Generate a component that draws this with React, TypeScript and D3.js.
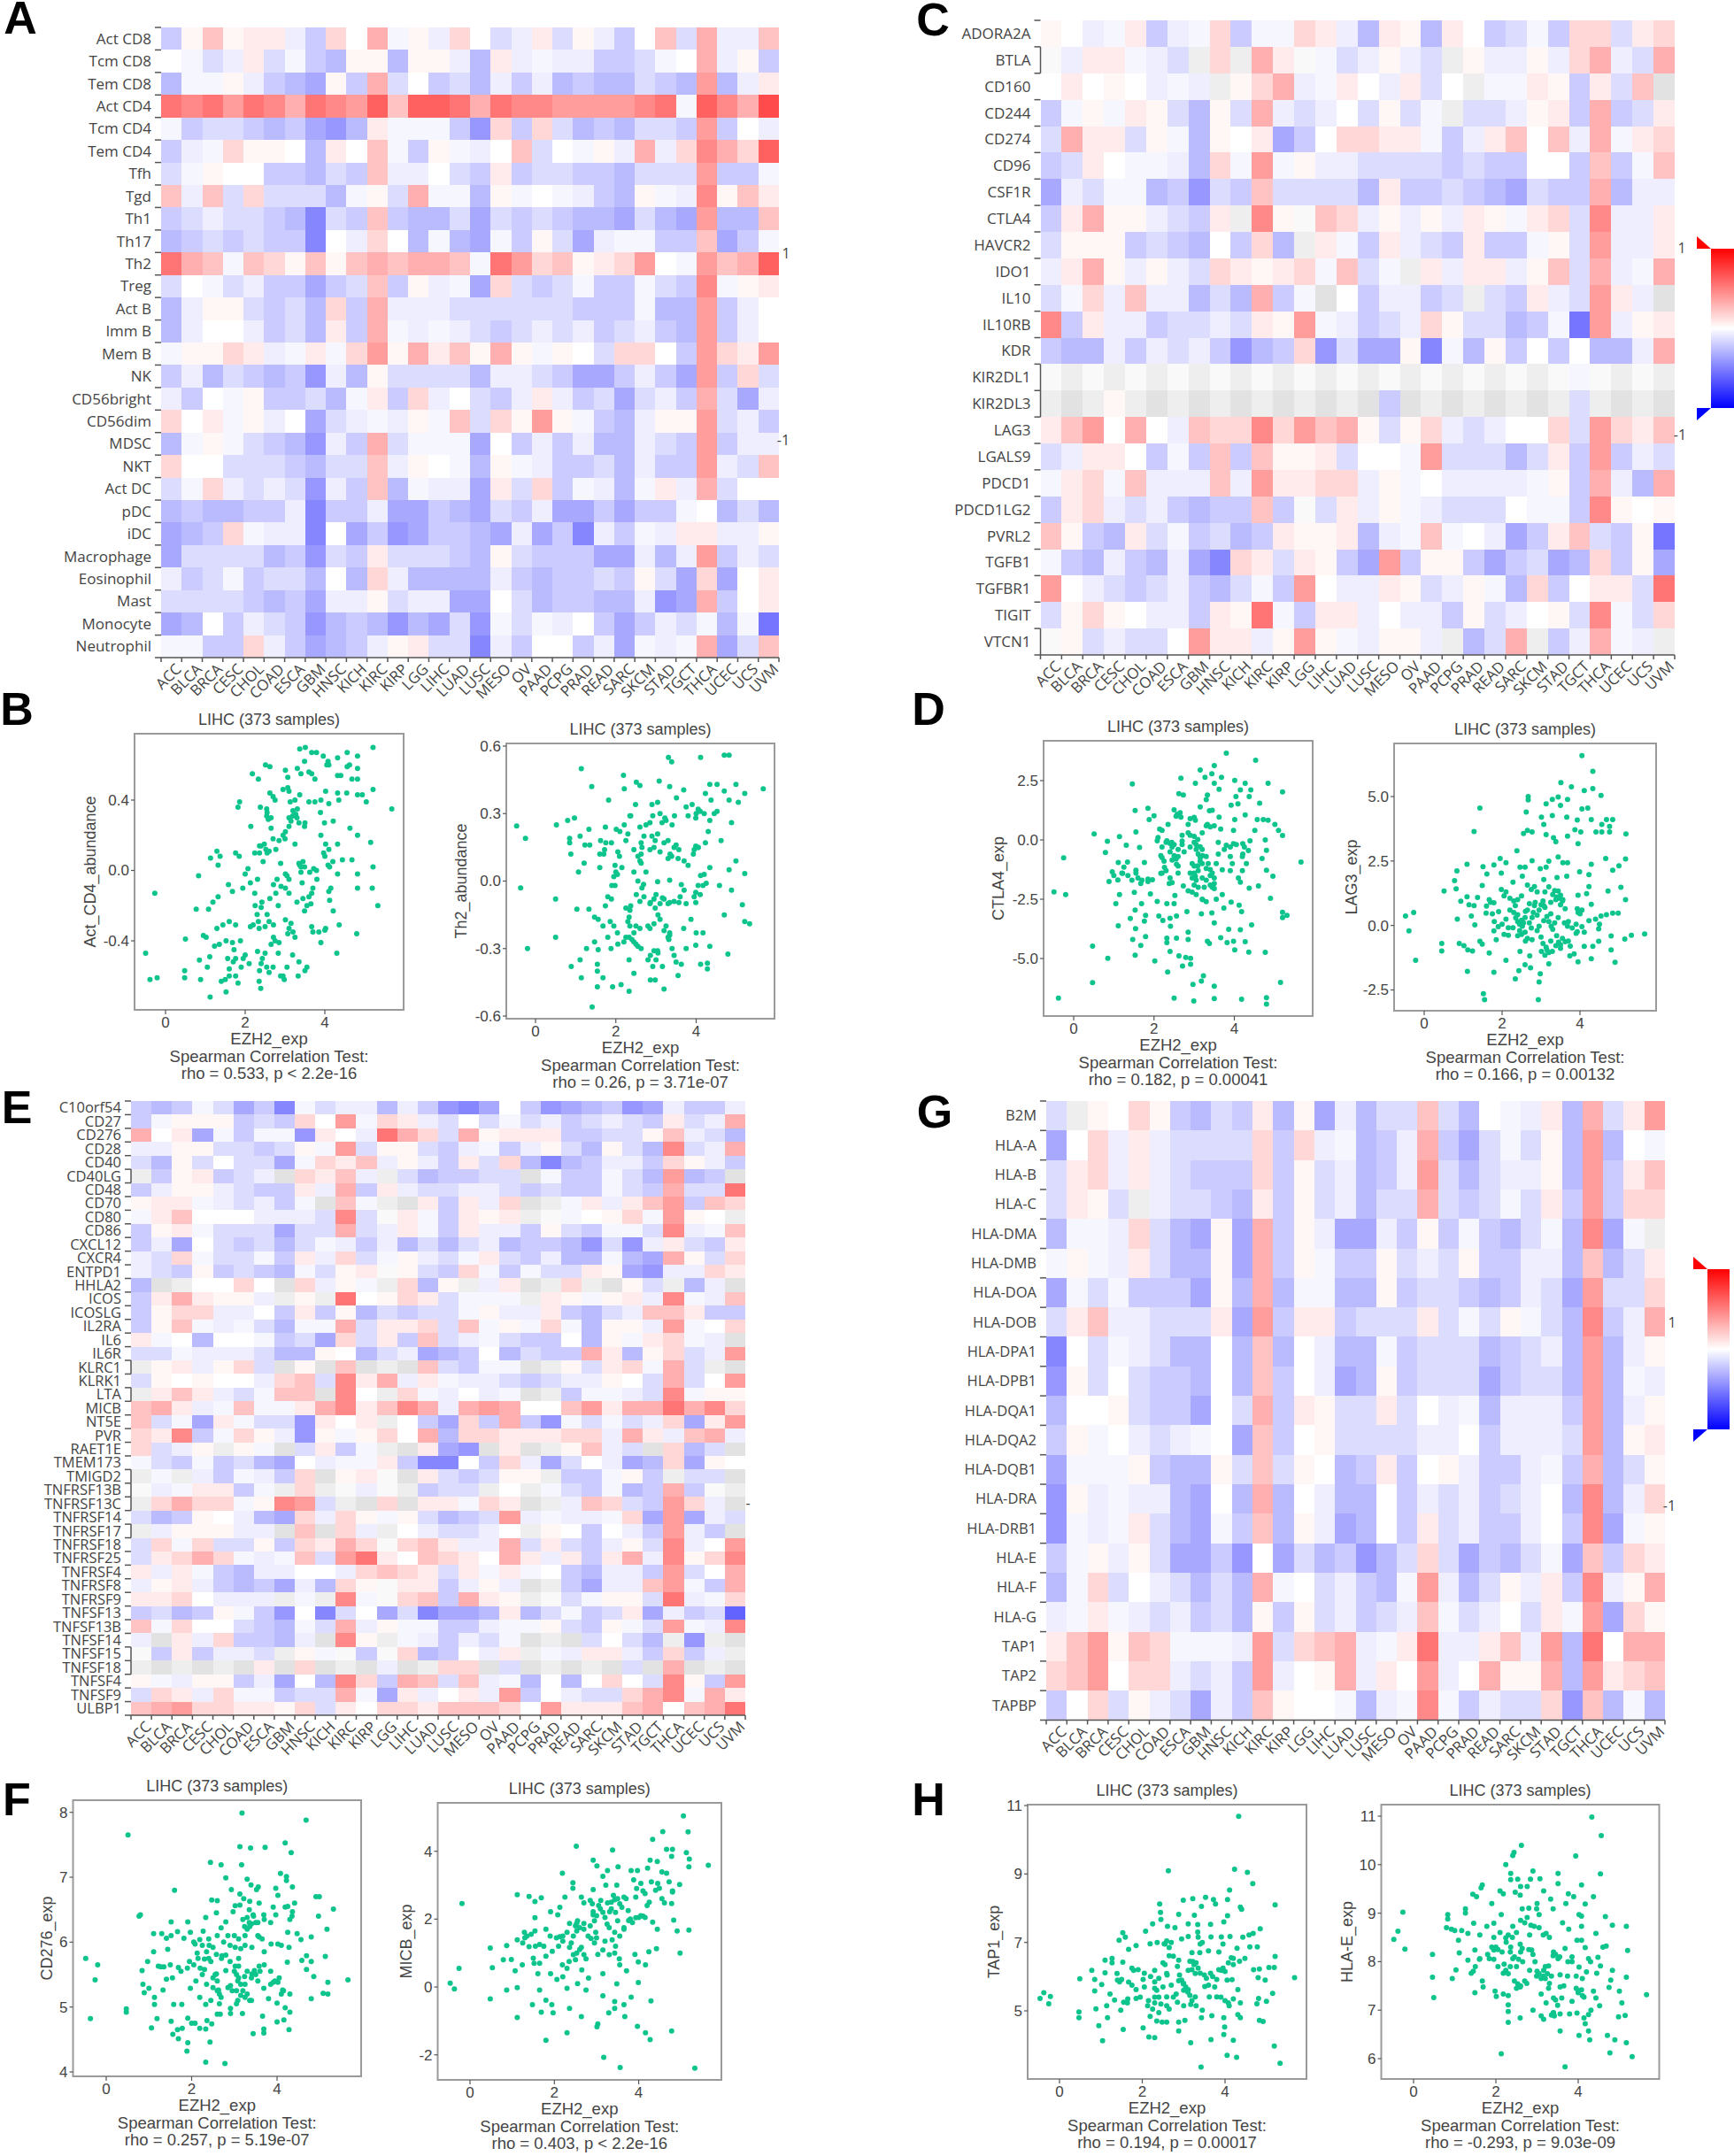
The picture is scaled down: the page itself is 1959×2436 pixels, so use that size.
import * as d3 from 'd3';

const CANCERS = ['ACC','BLCA','BRCA','CESC','CHOL','COAD','ESCA','GBM','HNSC','KICH','KIRC','KIRP','LGG','LIHC','LUAD','LUSC','MESO','OV','PAAD','PCPG','PRAD','READ','SARC','SKCM','STAD','TGCT','THCA','UCEC','UCS','UVM'];

// Cell codes: 1-9 red steps, a-i blue steps, + and - the faintest tints, . white, x y z greys (no data)
const A_LABELS = ['Act CD8','Tcm CD8','Tem CD8','Act CD4','Tcm CD4','Tem CD4','Tfh','Tgd','Th1','Th17','Th2','Treg','Act B','Imm B','Mem B','NK','CD56bright','CD56dim','MDSC','NKT','Act DC','pDC','iDC','Macrophage','Eosinophil','Mast','Monocyte','Neutrophil'];
const A_VALUES = [
  'c+3+11ac2. 4-+a2.ba1b +ac.3b4aa3',
  '.-ba1b-cd+ +d++ad1a-a accb-.4a+c',
  'd--+acde+c 4b.cbdacad cddbcd5da1',
  '7675764765 8388747665 55567-8649',
  '-cbbcdcefd 1---cf2c2b dcdbbc5c.a',
  'ca-2++.d1. 3-c+-a.3b. -+a4a26428',
  'b-+..ccdbc 3aa.bc1cbb ccdbbb5cc-',
  '3a3b2bbbd- +b4--d+-.- acd+-a6+31',
  'cbabbcdgbc 3cddbebcbc ddebde5dd3',
  'dcbcbccg.a 2.d-de-c+b ea--cc3ec-',
  '743-32+3+3 43443-7523 +125.-5348',
  'b.-baccecb 3c+a-e2bcb -cc-bc6-+1',
  'da++bcbd2c 4aaabbbbbb ccc-dd5ca.',
  'da..acbd1c 4-a-abcbab acbacd5ca.',
  '-++21a-1-2 5+413+4+-+ .b22.c5215',
  'cadbcdcfad +bbbbdaabc eecace5c2b',
  'ac.-+ccbd- 1c2a.bca1a cbebac4bea',
  '2.1-+a.eba -a+-3b2+5+ -cda++5bac',
  'd-+-bcdfac 4b---e.cac addabc5caa',
  '2..bbbcdbb 3a+.-d+-ac cbdacc5ab3',
  'b-2ababfac 3d-aae1b2c -ad-1a4b..',
  'dcddccagcc aeecdebcae ececc-.dbd',
  'edc2-aag.e cfeccdeaec gac-a11aa+',
  'ebbbbdcfbc 1bbbcd+bcc ceeada5cab',
  'acb-cbbd.d 2addddacdc cbc+be2e.1',
  'bbbbcdceaa +baaee.bdc cddafe4c.1',
  'ed.cabcfdc dfdebf-b-a .cecab-d-h',
  '--cc2acedc a+1bbgac.. cae-a-4eb3',
];

const C_LABELS = ['ADORA2A','BTLA','CD160','CD244','CD274','CD96','CSF1R','CTLA4','HAVCR2','IDO1','IL10','IL10RB','KDR','KIR2DL1','KIR2DL3','LAG3','LGALS9','PDCD1','PDCD1LG2','PVRL2','TGFB1','TGFBR1','TIGIT','VTCN1'];
const C_VALUES = [
  '+.a-1ca-2c --21ad1+d1 .cb-c22b12',
  'za11-abx2x 41z-ba+abx +aa+a24ab4',
  '.1.+.a-ax+ 24a-1.a1b. x--1+c1b3y',
  'c-+-1+bd+b 4aba.b+b-x bba+1c4cb1',
  'b411b+-d+. 1ec.2211-c a13.3a4-12',
  'cb1.--ad2- 5-+aabbbbc bcc..c3c-3',
  'eab--dcfbc 3bbbbd1ccb cdebcc4daa',
  'c14++abc1x 6+z32a+a+a 1+-12b6aa1',
  'b+++cbcd.c 2dx1-c1abc 1cc-+b5aa1',
  'a14+a+ab21 +12-3b-x1a 11a+3b4a-4',
  'b-2a3aadbd 4c-y.caacb xbc1ab51ay',
  '6c1aacbbab 1+5-acba2+ bbdc-h5a+1',
  'cddacabacf dc2fbee+g- d+c.c.dda4',
  'zxzxzxzxzx zxzxzxzxzx zxzxz-zxzx',
  'xyx+xyxyxy xyxyxycyxy xyxyxbxyxy',
  '135.4.a322 62534+b+2a ba..2b5213',
  'ba11.c-c3c 3++1b..-5b bbdb1c5cab',
  '-12-3aaa3a 51122a+-.a aaa-+c4ad4',
  'c12abacdcc 3czb1a+-ab bb.--c6+.+',
  '3+cd1b-cbd c1++1da-3- .aec13bc+h',
  '-cdacdaeg2 1b1+ce5c++ cecbed2c+e',
  '5.abcbacdb -c5.aa1+ba +-d2c.11b7',
  'b+2+.aac1+ 7-c11a.aac +ba.+b6-b2',
  'z+babb.511 a+5+-a++ax db4xca4-ax',
];

const E_LABELS = ['C10orf54','CD27','CD276','CD28','CD40','CD40LG','CD48','CD70','CD80','CD86','CXCL12','CXCR4','ENTPD1','HHLA2','ICOS','ICOSLG','IL2RA','IL6','IL6R','KLRC1','KLRK1','LTA','MICB','NT5E','PVR','RAET1E','TMEM173','TMIGD2','TNFRSF13B','TNFRSF13C','TNFRSF14','TNFRSF17','TNFRSF18','TNFRSF25','TNFRSF4','TNFRSF8','TNFRSF9','TNFSF13','TNFSF13B','TNFSF14','TNFSF15','TNFSF18','TNFSF4','TNFSF9','ULBP1'];
const E_VALUES = [
  'cdc-becg-b aadacfge.c fedcfeacca',
  'c-+++cbc2. 5-21ab.b-b acbabc1ba4',
  '4.1e-c--f1 .a742b4+11 1ccbb+3abd',
  'aa++bbcb+- 5b++bca-ca +bd+bd6ba4',
  'bd+b.bbe-2 13a+ac1b2d gdcaac2+ac',
  'xc+1cbay21 3axbdccbby -cc-bd5dcy',
  'ca++abcc1a 4c1abbaabc bcc-bc4bb7',
  '+11-abac-y 3-xy1c1a2y x-1a135c32',
  '-13...aaab 6bz1-c1+1x z-.+2-5+.x',
  'c+1-bbbebb 4ba1-c1aac +bc--b6a-3',
  'cae.bcbdb- acadbdbadc cdfbfa1bc1',
  'ab2-bb-c1a 2b-+ab-1bc add-de4+b2',
  'abc+cbcd-b +1z+bc2-c- bb1+efaa21',
  'dyx..2.y2a +-x2d+xa1y x2xy+bxday',
  'c141++ax+x 7.+21b---x 1+-+1a6-a3',
  'c+22aa.c1c +dbcbb-+aa 1cdba331cc',
  'c+3-a-bd-- 4b112b3-+- 2-d++a5-.2',
  '1-.d..-cbe 2b1c3ba-bc c.d+-12-ay',
  'bb-aaabdd+ .dbaedc.db cc41d+2ba5',
  'x+1a+2by+y 3yxy3bc--y x+b12-4bxy',
  'b+.+..a23b 614a1-aabc baa+.b4b.5',
  'x131ab-33y 6.x2-a.a-y xc--ab6-++',
  '341a-3--14 61364a454. .351447462',
  '3b-e1-bbf1 .1x.ce2c4c f-b-ba2e15',
  '216c-2+af+ -+2.4d2211 122a41a34a',
  '2ba+x+-yb1 c-xy1efy1y x+3aby2dby',
  '-bc-cbde.a --1cgg.c2a eb.aed2e+.',
  'x-xac-ac2y +1zy1bcb++ xcc-+cxbby',
  'za-11c-x2x zazxcbbx.x -bc-dc4czx',
  'x2422-+65b xy2y11-21y xa32bc52ay',
  'bdc+.ade2a 2+-+bdcb5a -aa-2e5eab',
  'xa+++aay3y 2ax.abba.x +.c.ac5acy',
  'b2-2bb+c21 42z231aa4b 1bca+b6a.5',
  'b1242-a-3b 571.321.41 a1c14a6+26',
  '1a1-cdaa.. a2321b1-1- .cdaac5b.4',
  'a+1acdcead 2+z11ca+ay xceaa35-c4',
  '112.aaax-x 6-z23c41+x zb-++b7a-2',
  'cbdc+-cf.g b.ebgeed1d b-cb1eacbi',
  '3-2..bcd-b 4a+--cca-- +bc+-b5-a6',
  'ay1a2ccday 6+x-acab-y xyb.bdxfxy',
  'zc1caabx+- zcz2dc.a1x -a11ac2cax',
  'xyxyxy1y2y xyayx22yby xyxyby4yxy',
  '+-a++cae.d 62c43b3a-d .d.2.b6+c5',
  'b21a2--cbb 4-e1a.1a5c .abb246-41',
  '3452211+2b 1.2213332. 511134.347',
];

const G_LABELS = ['B2M','HLA-A','HLA-B','HLA-C','HLA-DMA','HLA-DMB','HLA-DOA','HLA-DOB','HLA-DPA1','HLA-DPB1','HLA-DQA1','HLA-DQA2','HLA-DQB1','HLA-DRA','HLA-DRB1','HLA-E','HLA-F','HLA-G','TAP1','TAP2','TAPBP'];
const G_VALUES = [
  'bx+.2+cdbc 1d+eadbb3b d.-a1d4b15',
  'e.2a1abbbb 2c2a-dca4c eb-b+d5d.-',
  'b12a1abccc 2c+badca5b dbaa+d5c13',
  'b1+bxabbcd 1c+badbb4b cb-b1c5c22',
  'd--a2bde+e 4c+aeeac+c -cdb-d6e-x',
  '-+-a1bdd+e 4c+-cc+bab +ccaad3db1',
  'e-b-ccce+d 4d--dd+cbb cdcabe5bb2',
  'b13aabbb1e 5c11cbbb1b -b+-bd6ca4',
  'g.b-abdd.d 3d.add-cbb bdcbad5da+',
  'f+b.bccd.d 3c.aed+cbb becbbd5d-a',
  'd..+bcce.b 4c1+bb1b.a -daaac5da+',
  'c+-.aba-.e 3c.+bbbbaa .caaab5d+1',
  'e---+cdd+b 3b+.dc1c.+ acca-c4db+',
  'f+a-aade.d 4d.add.cab acba.d6da2',
  'f-a-1bde-c 3d+aed.c1b acca.c6e-+',
  'c-+a+beecf .ebdcfdb2b ecdb-e3c21',
  'd-2b.abdbd 4-.bacd-5a db+a1c6a+4',
  'a-1-abacbd +c+bacba3- ba.b1-5e2+',
  '135+32---a 5b234a-17a a13a5d7.44',
  '235.22abac 5a.+4a1.5a .4++4d5123',
  'c.2b+abeac 3+..-da-6- cabb2f3d-d',
];

// Scatter values, as x,y pairs (EZH2_exp, marker)
const B1_POINTS = [-.5,-.47,-.39,-.62,-.21,-.61,-.27,-.13,.48,-.57,.48,-.61,.5,-.39,.77,-.22,.83,-.03,.85,-.51,.88,-.62,.95,-.37,1.02,-.38,1.08,-.22,1.12,-.72,1.11,-.49,1.05,-.55,1.13,.07,1.19,-.18,1.32,-.15,1.29,.11,1.37,.08,1.32,.03,1.29,-.33,1.23,-.43,1.35,-.42,1.52,-.69,1.4,-.63,1.58,-.08,1.68,-.12,1.6,-.29,1.44,-.31,1.52,-.4,1.68,-.41,1.56,-.5,1.6,-.56,1.76,.1,1.85,.08,1.86,.39,1.82,.36,1.76,-.31,1.88,-.4,1.76,-.5,1.76,-.6,1.82,-.64,2,-.02,2.07,.01,1.94,-.1,2.14,.25,2.18,.55,2.33,.52,2.51,.6,2.62,.59,2.38,.36,2.54,.35,2.54,.31,2.62,.44,2.24,.1,2.36,.14,2.48,.15,2.6,.11,2.77,.12,2.65,.24,2.13,-.32,2.33,-.29,2.24,-.13,2.42,-.18,2.13,-.07,2.31,-.05,2.31,-.46,2.43,-.5,2.36,-.57,2.54,-.55,2.35,-.63,2.39,-.67,2.71,-.08,2.77,-.13,2.83,-.2,2.71,-.31,2.71,-.38,2.83,-.47,2.89,-.6,3.01,.57,3.07,.53,3.07,.47,3.13,.39,3.19,.31,3.01,.22,3.25,.15,2.89,.04,3.01,-.02,3.01,-.1,3.01,-.28,3.07,-.36,3.25,-.38,3.19,-.48,3.33,-.6,3.37,.69,3.51,.7,3.31,.58,3.49,.62,3.37,.43,3.31,.35,3.49,.25,3.37,.03,3.49,.02,3.43,-.07,3.67,-.13,3.49,-.23,3.67,-.32,3.55,-.55,3.67,.67,3.79,.67,3.67,.55,3.96,.65,4.08,.62,4.32,.64,4.56,.67,4.82,.65,5.21,.7,4.82,.58,4.56,.59,4.32,.54,4.68,.52,4.82,.52,4.02,.45,4.32,.44,4.82,.43,4.94,.43,5.04,.39,5.21,.46,5.68,.35,3.89,.33,4.21,.28,3.99,.27,4.63,.24,4.82,.2,5.15,.16,4.02,.15,4.32,.15,4.44,.06,4.68,.06,4.08,.03,5.21,.02,3.79,0,4.32,-.02,4.82,-.02,4.15,-.1,4.82,-.1,5.19,-.1,5.33,-.2,4.21,-.23,4.02,-.33,4.36,-.31,4.8,-.36,3.9,-.41,4.3,-.47];
const B1_DENSE = [2.4,.14,2.52,.12,2.55,.1,2.45,.05,2.36,.1,2.7,.18,2.85,.17,2.95,.2,3,.18,3.1,.3,3.2,.34,3.27,.32,3.3,.3,3.15,.28,3.1,.25,2.65,.3,2.55,.33,2.58,.29,2.7,.42,2.75,.4,2.95,.46,3.1,.45,3.25,.4,3.6,.39,3.75,.39,3.9,.4,4.1,.38,4.35,.4,4.55,.44,3.4,.55,3.6,.56,3.75,.52,4.05,.6,4.1,.6,4.4,.54,4.62,.6,3.35,.27,3.5,.27,3.9,.2,4.1,.12,3.97,.1,4,.08,4.12,.02,4.2,.05,3.35,.04,3.4,.02,3.45,.05,3.4,-.01,3.62,-.01,3.72,.01,3.8,-.05,3.7,-.1,4.1,-.12,4.12,-.17,3.6,-.15,3.55,-.2,3.65,-.19,3.3,-.18,3.45,-.16,3.1,-.13,2.9,-.09,2.8,-.05,3.05,-.03,3.1,-.05,2.62,-.16,2.4,-.21,2.55,-.25,2.35,-.33,2.5,-.32,2.6,-.29,2.2,-.31,2.3,-.25,2.25,-.2,3.1,-.33,3.2,-.35,3.15,-.3,3.7,-.35,3.85,-.35,4,-.34,2.85,-.41,2.65,-.42,2.75,-.4,2.5,-.47,2.4,-.53,2.6,-.58,2.7,-.55,2.95,-.6,2.98,-.62,3.05,-.55,1.7,-.52,1.6,-.6,1.5,-.62,1.72,-.45,1.95,-.5,1.9,-.55,2,-.48,2.1,-.53,3.5,-.57,3.35,-.52];
const B2_POINTS = [-.47,.245,-.25,.19,-.37,-.03,-.2,-.3,.52,.25,.8,.27,.97,.28,1.14,.5,1.4,.42,.5,-.08,.5,-.25,.85,.19,.85,.17,.88,.12,1.07,.04,1.03,-.125,1.33,-.125,1.21,.08,1.11,.2,1.33,.23,1.23,.16,1.35,.16,1.6,.06,1.7,.12,1.74,.24,1.82,.36,.89,-.38,1.11,-.35,1.14,-.43,1.27,-.3,1.47,-.16,1.56,-.17,1.47,-.27,1.56,-.305,1.54,-.37,1.54,-.4,1.54,-.47,1.41,-.56,1.68,-.43,1.92,-.47,2.13,-.46,2.33,-.49,1.68,-.2,1.86,-.18,1.74,-.11,1.8,-.07,1.89,-.08,1.98,-.02,2.04,.03,1.98,.07,2.15,.06,1.89,.17,2.09,.11,2.01,.23,2.19,.47,2.21,.41,2.51,.44,2.6,.425,2.49,.34,2.37,.29,2.21,.25,2.3,.21,2.6,.24,2.63,.17,2.63,.12,2.63,.08,2.75,.04,2.69,-.015,2.51,-.06,2.37,-.11,2.33,-.16,2.04,-.23,2.33,-.25,2.45,-.27,2.63,-.3,2.33,-.35,2.45,-.41,2.86,-.44,2.86,-.33,3.04,-.31,2.92,-.38,3.16,-.38,3.2,-.48,2.98,-.44,2.8,-.2,3.1,-.17,3.34,-.23,3.34,-.24,3.16,-.075,2.86,-.095,2.98,-.12,3.34,-.095,3.57,-.095,3.04,-.003,3.34,.004,3.63,-.016,2.98,.18,3.04,.21,2.92,.29,3.04,.35,3.08,.445,3.31,.55,3.39,.53,3.34,.42,3.69,.405,3.51,.37,3.22,.28,3.46,.29,3.39,.11,3.75,.33,4.11,.55,4.7,.56,4.82,.56,4.34,.43,4.52,.43,4.99,.43,5.67,.41,5.21,.39,4.7,.4,4.23,.39,4.37,.36,4.82,.36,5.05,.35,4.05,.32,4.52,.31,3.99,.28,4.34,.27,4.88,.26,4.62,.18,4.23,.17,3.99,.155,3.93,.12,3.57,.14,4.99,.09,4.82,.05,4.34,.06,4.11,.025,5.21,.033,4.58,-.02,4.88,-.04,3.99,-.05,4.17,-.02,5.15,-.105,3.99,-.095,4.7,-.15,3.87,-.17,5.21,-.18,5.33,-.19,3.69,-.21,4,-.23,4.17,-.23,3.99,-.285,4.34,-.29,3.75,-.3,4.79,-.325,4.11,-.37,4.28,-.365,4.28,-.39,3.55,-.42,3.63,-.37];
const B2_DENSE = [2.45,.14,2.55,.11,2.6,.09,2.65,.15,2.7,.2,2.85,.14,2.9,.2,2.95,.15,3.1,.13,3.2,.17,3.3,.1,3.35,.12,3.45,.15,3.5,.16,3.55,.1,3.7,.09,3.8,.07,3.95,.14,4.05,.15,3.3,.18,3.4,.25,3.15,.26,2.85,.26,2.75,.25,2.9,.34,3.1,.3,3.25,.27,2.45,.04,2.55,0,2.65,-.03,2.7,-.07,2.6,-.09,2.85,-.1,2.95,-.08,3,-.06,3.1,-.1,3.2,-.08,3.3,-.1,3.45,-.09,3.6,-.07,3.7,-.04,3.75,-.1,3.2,-.22,3.3,-.25,3.32,-.26,3.25,-.2,3.05,-.15,2.95,-.19,2.85,-.21,2.6,-.21,2.5,-.2,2.35,-.13,2.3,-.18,2.25,-.12,2.35,-.2,2.4,-.26,2.45,-.23,2.2,-.27,2.25,-.25,2.5,-.28,2.55,-.29,2.05,-.28,1.95,-.2,1.88,-.3,1.8,-.25,2.8,-.35,2.95,-.31,3,-.35,3.05,-.32,3.45,-.33,3.5,-.36,3.4,-.3,4.05,-.02,4.1,-.06,4.2,.03,4.25,-.01,3.95,-.07,4.05,.15,3.8,.29,3.9,.34,4,.3,4.1,.31,4.45,.3,4.3,.22,4.2,.3,2.35,.29,2.25,.18,2.1,.22,2.05,.13,2,.04,1.95,.02,1.9,-.02,1.6,.12,1.72,.14,1.75,.17,1.62,.18];
const D1_POINTS = [-.49,-2.19,-.2,-2.3,-.25,-.76,-.38,-6.67,.51,.25,.47,-4.48,.47,-6.02,.84,-.06,.79,-.53,.85,-4.99,.88,-1.75,.96,-1.34,1.14,.14,1.11,-.95,1.1,-1.69,1.14,-2.3,1.05,-2.69,1.11,-3.62,1.22,-1.41,1.34,-.93,1.31,-.22,1.46,2.36,1.53,1.24,1.55,.34,1.55,-1.28,1.51,-2.21,1.53,-2.96,1.41,-3.31,1.54,-3.74,1.47,-4.2,1.53,-4.86,1.67,-4.45,1.76,-.95,1.64,-.32,1.67,-1.84,1.69,-2.69,1.79,-3.18,1.76,-3.42,1.79,-4.08,1.85,1.33,1.88,.86,2,1.02,1.85,-1.65,1.96,-1.68,1.91,-2.28,2.02,-5.1,2.08,-.04,2.14,.46,2.17,-.66,2.17,-1.41,2.08,-2.59,2.12,-3.21,2.22,-3.4,2.32,-4.14,2.32,-4.33,2.34,-5.57,2.41,-3.64,2.4,-4.7,2.56,-3.21,2.56,-4.14,2.32,-2.69,2.5,-2.69,2.52,-2.34,2.38,-1.84,2.26,-1.16,2.32,-.04,2.44,-.1,2.5,1.27,2.58,1.08,2.67,.96,2.5,-.66,2.56,-1.03,2.67,2.6,2.62,1.95,2.73,1.89,2.62,-4.89,2.71,-5.32,2.91,-4.99,2.91,-5.24,2.79,-4.95,2.5,-6.67,2.99,-6.79,2.97,-6.09,3.18,-5.95,3.23,-5.73,2.85,-3.89,2.85,-4.2,2.82,-3.02,2.73,-1.94,2.85,-2.15,3.03,-1.53,3.03,.83,2.85,.65,3.03,2.39,3.15,2.95,3.15,1.39,3.09,.02,3.15,-.29,3.21,-.66,3.09,-1.09,3.27,2.64,3.33,1.89,3.38,1.23,3.33,.65,3.5,-1.84,3.33,-4.27,3.38,-4.37,3.21,-2.52,3.18,-3.12,3.44,-3.08,3.5,-3.5,3.5,3.13,3.44,2.79,3.68,2.64,3.5,2.39,3.62,2.14,3.8,3.66,3.62,.96,3.66,.46,3.5,-6.69,3.5,-6.17,3.66,-4.12,3.7,-1.26,3.92,1.46,4.09,1.52,4.04,1.83,4.01,2.51,4.15,2.11,4.27,2.39,4.37,1.83,4.41,2.11,4.53,3.36,4.84,2.39,5.2,2.02,4.27,1.05,4.01,.86,4.63,1.55,4.57,.86,4.72,.86,4.84,.83,5.01,.65,5.1,.4,5.2,.19,4.51,.4,3.98,.4,4.77,0,4.39,-.04,4.21,-.16,3.98,-.16,3.8,-.22,4.8,-.44,4.21,-.6,4.69,-.78,5.66,-.93,4.8,-1.28,4.96,-1.53,4.15,-1.78,4.6,-1.94,4.37,-2.03,4.9,-2.46,3.92,-2.62,4.12,-2.75,4.18,-3.02,5.2,-3.05,5.31,-3.18,5.2,-3.27,3.74,-2.87,4.43,-3.58,3.86,-3.77,4.15,-3.79,3.82,-4.33,3.98,-4.27,4.27,-4.29,4.01,-4.64,4.36,-4.73,4.77,-4.74,5.15,-6.01,4.18,-6.72,4.8,-6.65,4.8,-6.92,3.05,-.4,3.15,-.75,3.2,-1,3.3,-1.2,3.4,-1.5,3.1,-1.3,2.95,-1,3,-1.9,3.4,-1.9,2.6,-1.4,2.4,-.5,2.7,-.2,2.9,.2,3.2,.3,3.5,.6,3.9,-.3];
const D1_DENSE = [2.2,-.3,2.3,-.1,2.4,-.15,2.45,-.3,2.5,-.2,2.6,-.4,2.7,-.05,2.75,-.5,2.2,-.75,2.25,-.9,2.45,-.85,2.55,-.8,2.6,-1.1,2.3,-1.3,2.4,-1.6,2.45,-1.8,2.2,-1.4,2.9,-.3,3,-.1,3.05,-.2,3.1,-.6,3.15,-.9,3.2,-.4,3.3,-.7,3.35,-1,3.4,-1.25,3.45,-1.4,3.5,-1.6,3,-1.4,3,-1.1,2.9,-1.4,2.95,-1.6,3.05,-1.7,3.2,-1.6,3.3,-1.7,3.45,-2,3.5,-2.05,3.25,-2,3.1,-2,2.95,-2.2,3.05,-2.3,3.2,-2.5,3.3,-2.6,3.55,-2.5,3.7,-2.3,3.6,-.1,3.75,-.4,3.9,-.7,3.95,-1,3.55,-1,3.6,-.6,4.05,-.2,4.25,-.3,4.35,-.45,4.2,-.7,4.3,-1,4.2,-1.3,4.1,-1.6,3.9,-1.3,2.1,.1,2.2,.4,2.35,.65,2.55,1,2.65,1.15,2.9,.9,3,.95,3.3,.6,3.4,.55,3.45,1.25,3.3,1.7,2.7,.2,1.55,-1.4,1.6,-1.6,1.7,-1.7,1.25,-1.15,1.35,-1.5,1.45,-1.7,1,-1.5,1.2,-1.4,1.85,-1.75,2.4,-3.3,2.6,-.7,2.85,.3,3,.15];
const D2_POINTS = [-.48,.37,-.27,.5,-.39,-.21,-.22,-1.35,.45,-.7,.45,-.99,.51,1.34,.78,1.74,.84,2.12,.82,1.42,.85,.25,.9,-.7,1.02,-.78,1.11,-1.78,1.12,-.95,1.24,-.99,1.1,2.37,.94,.94,1.1,1.11,1.15,.8,1.28,.77,1.37,1.09,1.49,1.55,1.21,.37,1.3,.02,1.43,-.61,1.49,-.72,1.67,-1.07,1.79,-1.81,1.51,2.28,1.61,2,1.79,2.35,1.95,2.6,1.98,2.03,2.1,2.43,1.43,4.55,1.28,3.64,1.67,1,1.79,.88,1.59,.48,1.85,-.55,2.1,-1.35,1.52,-2.65,1.55,-2.88,2.34,-2.07,2.43,-1.75,2.38,2.9,2.67,5,2.67,4.87,2.62,4.4,2.55,3.57,2.65,3.69,2.77,3.63,3.01,4.2,3.13,4.72,3.29,4.89,3.44,4.98,3.68,4.89,3.5,4.66,3.07,3.92,3.29,4.26,3.13,3.52,3.32,3.4,3.38,3.25,3.68,3.46,3.66,4.2,3.93,4.09,3.87,3.71,4.02,3.63,3.95,3.17,4.05,6.59,4.33,5.98,3.51,5.54,3.78,5.38,4.11,5.23,4.33,5.31,4.54,5.04,4.05,4.52,4.2,4.55,4.29,4.11,4.56,3.92,4.68,4.11,4.84,4.11,4.76,3.84,4.41,3.63,4.56,3.63,4.76,3.63,5.18,3.55,4.66,2.6,5.17,2.58,5,2.31,4.84,2.14,4.29,2.37,3.99,2.08,4.23,1.97,5.05,1.48,4.72,1.34,5.17,1,4.98,.48,4.84,.48,4.68,.42,5.66,-.33,5.32,-.38,5.15,-.53,4.8,-.41,4.8,-.95,4.9,-1.43,4.48,-.13,4.48,-.61,4.29,-1.29,3.95,-1.41,3.74,-1.18,4.33,-.81,4.11,-.81,4.11,-.26,3.93,-.24,4.23,.19,4.54,.37,4.29,.82,3.93,.65,4.17,1.23,4.23,1.51,3.95,1.17,3.56,1,3.5,1.17,3.38,1,3.44,1.34,3.62,.65,3.68,-.03,3.44,.31,3.26,-.03,3.07,.77,3.07,.19,2.83,.77,2.77,.31,2.95,-.03,2.59,.31,2.4,.42,2.34,.77,2.52,-.03,2.28,-.09,2.16,-.09,2.1,.25,1.91,.54,1.98,1.4,2.28,1.68,2.52,1.91,2.46,2.26,2.59,2.26,2.65,1.57,2.83,1.51,2.98,2.2,3.13,2.26,3.2,2.49,3.44,2.66,3.56,2.43,3.68,2.43,3.66,1.91,3.41,1.86,3.07,1.78,2.77,2.51,2.93,-2.88,2.95,-2.19,2.98,-1.87,2.73,-1.64,2.59,-1.52,2.71,-1.18,3.01,-1.01,3.2,-1.49,3.13,-.84,3.38,-.78,3.5,-.89,3.29,-1.01,3.62,-.63,2.77,-.55,2.59,-.26,2.46,-1.01,2.16,-.38,1.79,-.21];
const D2_DENSE = [2.2,.6,2.3,.5,2.35,.3,2.4,.15,2.45,.05,2.5,.2,2.55,.1,2.6,.55,2.65,.6,2.7,.1,2.75,-.1,2.8,.5,2.85,.9,2.9,.4,2.95,.6,3,.8,3.05,.95,3.1,.7,3.15,.35,3.2,.15,3.25,.45,3.3,-.15,3.35,.1,3.4,-.4,3.45,-.65,3.5,-.75,3.55,.95,3.45,1.05,3.3,1.2,3.25,.9,2.6,-.6,2.65,-.5,2.5,-.35,2.45,-.2,2.4,-.4,2.9,-.2,3,-.45,3.05,-.7,3.1,-1.15,3.2,-1.05,3.15,-.95,3.25,-.6,3.55,-.5,3.7,-.6,3.75,-.8,3.85,-1.1,3.9,-.3,2.05,1.15,2.1,1.3,2.2,1.05,2.3,.95,2.4,1,2.5,1.15,2.7,.85,2.75,1.4,2.9,1.3,3.1,1.3,3.2,1.5,3.35,1.35,3.95,.5,4,.45,4.05,.6,1.6,.75,1.7,.9,1.75,.45,1.8,.15,1.9,-.05,2,.05,2.05,-.35,3.4,1.1,3.5,.8,3.6,.1,3.7,.15,3.8,-.1,3.9,.05,4.05,-.05,4.4,.25,4.5,.05];
const F1_POINTS = [-.48,5.75,-.2,5.65,-.26,5.42,-.37,4.82,.51,7.65,.47,4.97,.47,4.92,.84,5.56,.8,6.42,.77,6.4,.86,5.35,.89,5.22,.97,5.7,1,5.29,1.06,4.68,1.11,6.13,1.11,5.85,1.13,5.15,1.13,5.04,1.19,4.82,1.22,5.63,1.3,6.13,1.33,5.26,1.41,6.06,1.44,5.89,1.41,5.43,1.52,6.31,1.52,6.1,1.58,5.04,1.52,4.78,1.56,4.58,1.67,4.65,1.69,4.51,1.6,6.8,1.67,6.16,1.69,5.61,1.82,6.06,1.77,5.04,1.78,4.67,1.91,4.45,1.89,4.32,1.91,6.31,1.97,6.15,1.97,5.29,1.91,4.83,2,4.75,2.08,4.75,2.08,5.97,2.33,4.15,2.78,4.13,2.19,4.67,2.36,4.79,2.33,4.66,2.43,4.46,2.47,4.74,2.6,4.89,2.67,4.89,2.91,4.98,2.91,4.9,3.19,4.9,3.44,4.59,3.69,4.66,3.69,4.6,3.66,4.86,4,4.77,4.16,4.8,4.28,4.65,4.3,4.92,4.19,4.99,4,5.06,2.44,7.23,2.69,7.19,3.17,7.19,3.13,7.47,3.38,7.45,3.72,7.46,4.19,7.53,4.33,7.38,3.18,7.99,4.68,7.88,2.8,6.99,3.3,6.97,2.93,6.81,3.39,6.88,3.56,6.85,3.52,6.81,3.97,6.83,4.08,7.06,4.22,7.01,4.22,6.95,4.36,6.85,4.02,6.72,3.13,6.74,3.22,6.67,2.47,6.65,2.6,6.64,3.02,6.56,3.13,6.57,3.36,6.63,3.58,6.6,3.91,6.54,4.19,6.54,4.41,6.6,4.91,6.7,4.99,6.7,4.97,6.4,5.32,6.51,5.17,6.2,4.8,6.08,4.47,6.13,4.56,6.04,4.36,6.47,4.3,6.35,3.97,6.42,3.69,6.42,3.44,6.42,3.3,6.38,3.24,6.24,3.36,6.24,2.97,6.47,2.8,6.31,2.58,6.45,2.33,6.38,2.69,6.22,2.27,6.17,2.19,6.04,2.5,5.92,2.41,5.95,2.58,5.81,2.71,5.79,3.02,5.92,3.41,5.92,3.58,6.08,4.02,5.97,3.86,5.97,4.28,5.92,4.69,5.79,5.13,5.78,4.58,5.72,4.8,5.7,4.69,5.58,4.86,5.47,4.24,5.69,5.19,5.38,5.66,5.42,5.08,5.21,5.19,5.2,4.8,5.13,4.3,5.2,4.13,5.26,4.02,5.38,3.8,5.13,3.69,5.29,3.58,5.63,3.47,5.56,3.24,5.47,3.08,5.4,2.91,5.33,2.63,5.26,2.58,5.51,2.8,5.56,3.02,5.63,2.3,5.58,2.3,5.74,2.13,5.83,2.19,5.15,2.33,5.04,2.69,5.15,3.08,5.1,3.36,5.1,3.3,5.2,3.91,5.38,3.41,5.51];
const F1_DENSE = [2.2,5.6,2.25,5.5,2.35,5.85,2.4,5.75,2.45,5.7,2.5,5.45,2.55,5.5,2.6,5.4,2.65,5.2,2.5,5.3,2.6,5.25,2.45,5.1,2.65,5.05,2.7,5.75,2.8,5.8,2.9,5.7,3,5.55,3.05,5.5,3.1,5.45,3.15,5.35,3.2,5.25,3.25,5.35,3.3,5.55,3.4,5.45,3.5,5.5,3.55,5.4,3.05,5.25,3.15,5.18,2.85,5.3,2.95,5.25,3.1,5.75,3.15,5.9,3.3,6.2,3.35,6.3,3.4,6.28,3.45,6.4,3.5,6.3,3.55,6.1,3.65,6.05,3.7,5.85,3.25,6.1,3.25,5.95,3.1,6.05,3.2,6.35,3.35,6.5,3.55,6.3,2.75,6,2.85,6.1,2.9,5.95,3,6.1,2.6,6.1,2.4,6.05,2.05,5.65,1.9,5.6,1.75,5.55,1.5,5.65,1.35,5.62,1.28,5.62,1.55,5.45,3.95,5.4,3.85,5.35,4.1,5.2,4.05,5.45,4.15,5.25,4.35,6.4,4.25,6.55,4.1,5.95,4.25,6.15,3.85,5.55,3.7,5.65,3.6,5.55,3.05,5.05,3.25,5.15,3.4,5.1,2.35,5.35,2.1,5.4,1.95,5.7,2.15,5.75,2.25,5.95,2.05,6,3.1,5.63,3.7,6.35,3.85,6.3];
const F2_POINTS = [-.47,.11,-.37,-.06,-.26,.55,-.19,2.46,.48,-.35,.48,1.15,.53,.57,.79,.8,.87,-.09,.87,1.22,.98,.81,1.07,.48,1.12,-.02,1.12,-.9,1.12,2.72,1.12,1.39,1.24,.65,1.29,1.61,1.4,1.19,1.4,2.67,1.48,-.52,1.52,.7,1.54,2.52,1.54,2.04,1.54,1.65,1.61,.39,1.65,-.09,1.69,2.63,1.69,-.74,1.8,-1.57,1.8,.91,1.8,1.7,1.8,-.39,1.91,2.22,1.91,.39,1.94,-.52,1.97,-.76,2.06,.22,2.08,2.13,2.19,3.35,2.13,2.35,2.19,.65,2.25,2.65,2.3,-1.35,2.36,-.63,2.3,-.04,2.44,3.07,2.44,2.91,2.52,4.15,2.36,1.17,2.53,1.87,2.53,1,2.64,-.87,2.64,2.65,2.7,2.48,2.75,.83,2.75,-.09,2.81,.26,2.92,3.74,3.01,3.57,2.92,2.87,2.92,2.13,2.98,1.61,3.03,.96,3.03,-1.09,3.01,-1.17,3.17,-2.07,3.15,-.26,3.15,.39,3.15,3.26,3.26,3.43,3.22,3,3.38,4.04,3.51,3.54,3.48,3,3.29,-.76,3.43,-.43,3.43,-.63,3.48,.09,3.56,-2.37,3.54,.83,3.65,-.52,3.67,-.87,3.71,.48,3.82,3.43,3.97,3.43,3.88,3.16,3.82,-.3,3.97,-1.16,3.99,.13,3.91,.96,3.99,.74,4.16,.65,4.16,-1.35,4.27,-1.55,4.29,-.41,4.24,1.04,4.42,1.13,4.27,3.74,4.44,3.7,4.21,3.5,4.33,4.35,4.57,4.58,4.55,3.39,4.66,3.35,4.66,4.06,4.8,4.06,4.78,3.85,5.06,5.04,5.17,4.57,5.13,3.96,5.2,3.77,5.19,3.54,5.65,3.59,4.97,3.02,4.72,3.1,4.49,2.91,4.8,2.83,4.61,2.48,4.78,2.46,4.83,1.97,4.91,1.65,5.19,1.68,4.98,1,5.33,-2.39,4.78,-1.3,4.44,1.7,4.33,1.91,4.1,2.09,3.93,2.04,3.76,1.96,4.1,2.83,3.93,2.65,3.65,2.65,3.43,2.57,3.26,2.48,3.09,2.3,2.92,2.22,3.31,2.22,3.43,1.61,3.65,1.7,3.37,1.39,2.87,1.43,2.53,1.65,2.3,1.61,2.13,1.48,2.36,1.87,2.64,1.17,3.15,1.09,3.43,1,2.7,1.87];
const F2_DENSE = [2.2,1.5,2.4,1.3,2.45,1.5,2.5,1.8,2.55,1.95,2.6,1.75,2.7,1.7,2.8,1.5,2.85,1.8,2.95,1.95,3,2.1,3.05,2.4,3.1,2.55,3.15,2.2,3.2,2.05,3.25,1.85,3.3,1.75,3.35,2.5,3.4,2.7,3.5,2.6,3.55,2.45,3.6,2.35,3.7,2.6,3.75,2.25,3.8,2,3.85,1.9,4,2.05,4.05,2.1,4.15,2.05,4.2,2.4,4.25,2.5,4.4,2.85,4.45,3.05,4.3,3.1,4.15,2.75,4.05,3.05,3.95,2.9,3.55,1.5,3.45,1.2,3.3,.95,2.45,.95,2.5,.8,2.6,1.1,2.7,.95,2.35,.75,2.2,1.35,2.05,1.45,1.9,1.5,1.75,1.2,1.65,1.25,1.55,1.2,1.45,1.55,1.35,1.5,1.3,1.45,1.25,1.3,1.95,1.05,2.1,1.2,2.65,.5,2.55,.1,2.3,.55,2.2,.3,2.9,2.45,2.85,2.55,3.35,2.3,3.45,2.2,3.65,1.75,3.5,1.95,3.2,1.35,3,1.45,2.95,1.3,3.55,.65,4.55,2.6,4.8,2.8,1.65,.7,1.5,.85];
const H1_POINTS = [-.47,5.36,-.38,5.53,-.22,5.42,-.26,5.21,.49,5.94,.47,4.97,.47,4.8,.78,6.18,.85,5.92,.85,5.58,.88,5.06,.95,4.57,1.04,4.13,1.02,5.77,1.1,6.11,1.1,6.48,1.14,5.15,1.16,4.8,1.27,6.53,1.27,6.4,1.22,5.49,1.33,5.32,1.44,7.06,1.39,6.09,1.48,5.02,1.53,7.28,1.59,7.15,1.53,6.42,1.54,4.46,1.5,5.92,1.64,5.23,1.67,6.8,1.67,5.84,1.79,6.18,1.85,6.91,1.85,5.62,2.02,4.5,2.08,7.33,2.16,4.24,2.3,4.22,2.19,6.96,2.19,4.84,2.25,7.54,2.42,8.12,2.44,7.88,2.45,7.67,2.36,7,2.48,4.67,2.59,4.67,2.63,9.09,2.61,7.47,2.79,7.43,2.88,7.82,2.88,4.67,2.88,4.41,3.03,4.72,2.99,8.23,3.22,8.28,3.53,8.32,3.72,8.25,3.77,8.12,3.43,8.05,3.26,7.79,3.11,7.54,3.34,7.52,3.65,7.53,4.06,8.25,4.11,8.53,4.33,10.68,4.23,9.14,4.54,9.05,4.67,8.72,4.37,8.03,4.4,7.97,5.21,8.1,4.06,7.78,3.97,7.6,4.85,7.4,4.68,7.26,4.58,7.22,4.43,7.15,4.12,7.17,3.91,7.16,3.66,7.16,3.34,7.3,3.11,7.17,2.59,7.04,4.6,6.87,4.78,6.87,4.29,6.83,3.85,6.72,3.39,6.7,4.48,6.53,5.21,6.59,5.06,6.27,5.19,6.27,4.83,6.22,4.69,6.2,5.68,5.97,4.8,5.97,4.97,5.9,4.2,6.53,4.08,6.4,3.91,6.18,4.17,5.91,5.15,5.51,5,5.28,4.81,5.36,4.77,5.21,4.83,4.72,4.92,4.69,4.31,5.62,4.37,5.23,4.31,4.89,4.37,4.8,4.08,5.23,3.97,4.8,3.99,4.53,3.97,4.31,4.2,4.14,3.66,4.16,3.17,4.07,5.19,3.97,4.05,3.7,4.28,3.64,5.33,3.47,3.42,3.36,3.68,4.86,3.43,4.8,3.45,5.02,3.17,5.19,3.28,5.41,3.62,5.41,3.8,5.41,3.11,5.62,2.99,5.79,2.88,5.88,3.51,5.71,3.8,5.92,3.28,6.09,3.22,6.44,2.88,6.48,2.65,6.61,2.59,6.09,2.3,6.18,2.02,5.92,2.3,5.66,2.59,5.41,2.3,5.23,2.59,5.15,2.82,5.49,2.13,5.15,3.11,6.18,2.53,6.96,1.85,5.36];
const H1_DENSE = [2.05,6.1,2.2,6,2.3,5.85,2.35,5.6,2.4,5.4,2.45,5.2,2.5,6.4,2.55,6.95,2.7,7,2.75,6.6,2.85,6.3,2.9,6.05,2.95,5.9,3,5.8,3.05,5.7,3,5.6,3.1,5.55,3.15,5.45,3.2,5.3,3.3,5.15,3.3,6.4,3.35,6.25,3.4,6.1,3.25,6.35,3.2,6.2,3.15,6.45,3.5,6.05,3.55,5.95,3.6,5.75,3.65,6.1,3.7,6,3.85,6.2,3.95,6.25,4,6.15,4.05,5.9,3.9,5.4,4,5.3,4.1,5.15,4.2,5.35,3.35,7.15,3.4,6.95,3.45,7,2.65,6.85,2.55,6.35,2.4,5.95,2.6,6.05,2.7,5.75,2.75,5.4,2.65,5.05,2.5,5.7,2.85,5.25,3,5.15,3.2,6.7,2.95,7.1,2.3,5.4,2.25,5.05,2.15,5.3,2.05,5.7,1.95,5.4,1.9,6.2,1.75,6.25,1.65,5.35,1.55,5.25,1.45,5.85,1.4,5.9,1.75,5.75,2.4,4.95,2.35,4.7,4.2,6.35,4.15,6.55,4.35,6.45,3.95,6.95,3.6,6.75,3.75,5.7];
const H2_POINTS = [-.48,8.46,-.38,8.63,-.26,9.02,-.21,8.26,.46,8.15,.46,7.68,.49,7.26,.83,8.97,.83,8.88,.8,8.7,.92,8.67,.94,7.65,1,8.64,1.03,7.83,1.09,8.44,1.11,8.18,1.17,8.64,1.26,9.09,1.26,9,1.32,8.58,1.32,8.03,1.4,7.76,1.46,8.79,1.44,9.39,1.53,9.34,1.49,8.24,1.49,7.36,1.61,8.55,1.61,8.06,1.64,9.52,1.67,9.58,1.67,7.6,1.69,7.48,1.78,8.73,1.84,8.06,1.9,9.2,1.95,8.79,1.9,8.3,1.95,8.24,1.98,7.39,2.01,7.28,2.1,9.46,2.13,8.97,2.13,6.1,2.18,7.33,2.24,10,2.24,8.49,2.18,9.4,2.3,7.3,2.3,7.11,2.3,6.97,2.3,6.75,2.36,9.82,2.36,9.69,2.41,10.19,2.44,10.25,2.53,9.7,2.47,9.43,2.59,9.37,2.62,10.4,2.59,6.84,2.41,8.73,2.24,7.82,2.18,7.76,2.53,7.54,2.59,7.48,2.41,8.06,2.76,9.55,2.84,9.7,2.9,9.87,3.07,9.71,3.16,9.46,2.9,7,3.05,8.97,2.76,8.91,3.33,9.29,3.51,9.82,3.51,9.61,3.39,9.09,3.16,6.81,3.1,6.88,3.56,6.57,3.68,5.83,3.76,9.4,3.89,9.34,3.7,9.2,3.94,10.18,4.08,9.58,4.37,9.34,4.17,9.19,4.33,10.98,4.56,10.6,4.54,9.81,4.66,8.93,4.02,8.97,4.08,8.94,4.83,8.75,5.17,8.73,4.43,8.58,4.08,8.73,3.62,8.8,3.77,8.67,3.97,8.44,4.08,8.44,4.6,8.3,4.68,8.32,5.2,8.23,4.17,8.29,4.48,8.09,3.68,8.27,4.25,8.06,3.85,8,4.02,7.89,4.54,7.91,4.83,7.82,4.45,7.76,4.2,7.79,5.17,7.68,4.79,7.62,4.75,7.47,5,7.39,5.66,7.32,5.06,7.15,5.14,6.89,4.98,6.86,4.52,7.09,4.37,7.39,4.08,7.42,4.43,7.25,4.14,7.27,4,7.36,3.85,7.18,4.31,7,4.25,6.91,3.97,6.94,3.79,6.92,3.56,6.92,3.39,6.94,4.14,6.84,4.17,6.72,4.25,6.57,4.02,6.48,4.28,6.39,4.71,6.48,4.89,6.39,5.17,6.33,4.77,6.12,5.31,6.04,3.74,7.7,3.56,7.73,3.28,7.91,3.16,7.82,2.99,7.7,2.82,7.82,3.28,7.45,3.56,7.48,3.1,7.33,3.45,7.21,3.22,7.15,2.87,8.24,2.64,8.27,3.39,8.12,3.51,8.06,2.93,8.73,3.22,8.58,2.82,8.55,2.59,8.36,2.36,8.3,2.64,9.09,2.99,9.09];
const H2_DENSE = [2,8.3,2.05,8.25,2.15,8.2,2.25,8.4,2.3,8.55,2.35,8.2,2.4,8.5,2.45,8.1,2.5,7.9,2.55,8.05,2.6,8.2,2.65,8,2.7,7.6,2.75,7.55,2.8,8.25,2.9,8.15,2.95,8,3,7.8,3.05,7.75,3.1,7.65,3.15,7.7,3.2,7.9,3.25,7.75,3.35,7.7,3.4,8.2,3.45,8.15,3.55,8.1,3.3,8.5,3.15,8.55,3.05,8.7,2.85,8.75,2.7,8.8,2.5,8.6,2.6,8.85,3,9.2,2.8,9.1,2.6,9.55,3.35,6.9,3.4,6.95,3.42,6.88,3.3,7.55,3.4,7.25,3.5,7.1,3.2,7.65,2.35,7.9,2.3,7.75,2.2,7.95,2.05,7.9,1.95,8.05,1.8,8.15,1.6,8.05,1.5,7.9,1.45,7.8,3.95,7.7,3.85,8.1,3.75,8,4.1,7.3,4,7.4,4.3,8,4.1,7.65,3.65,7.5,3.6,7.25,3.95,7.45,2.1,8.6,1.95,8.5,2.6,7.5,2.5,7.45,2.45,7.6];

const RED_STEP = 0.078;
const BLUE_STEP = 0.068;
const colorScale = d3.scaleLinear<string>().domain([-1, 0, 1]).range(['#0000ff', '#ffffff', '#ff0000']);
const GREYS: Record<string, string> = { x: '#eeeeee', y: '#e2e2e2', z: '#f9f9f9' };

function cellColor(code: string) {
  if (GREYS[code]) return GREYS[code];
  if (code === '.') return '#ffffff';
  if (code === '+') return colorScale(0.035);
  if (code === '-') return colorScale(-0.035);
  if (code >= '1' && code <= '9') return colorScale(+code * RED_STEP);
  return colorScale(-(code.charCodeAt(0) - 96) * BLUE_STEP);
}

function Heatmap({ labels, values, left, right, top, bottom, fontSize, labelX = 0 }: any) {
  const x = d3.scaleBand<string>().domain(CANCERS).range([left, right]);
  const y = d3.scaleBand<string>().domain(labels).range([top, bottom]);
  const edges = x.domain().map(c => x(c)!).concat(right);
  const clipId = `clip-${labels[0]}`;
  return (
    <g>
      <g filter="url(#soften)">
        {labels.map((label: string, r: number) => (
          values[r].replace(/\s/g, '').split('').map((code: string, c: number) => (
            <rect key={`${r}-${c}`} x={x(CANCERS[c])} y={y(label)} width={x.bandwidth()} height={y.bandwidth()}
              fill={cellColor(code)} shapeRendering="crispEdges" />
          ))
        ))}
      </g>
      {labels.map((label: string, r: number) => (
        <g key={label}>
          {'xyz'.includes(values[r][0]) && (
            <line x1={left} x2={left} y1={y(label)} y2={y(label)! + y.bandwidth()} stroke="#555" strokeWidth={1.5} />
          )}
          <line x1={left - 7} x2={left} y1={y(label)} y2={y(label)} stroke="#555" strokeWidth={1.5} />
        </g>
      ))}
      <clipPath id={clipId}><rect x={labelX} y={top - 20} width={left - labelX} height={bottom - top + 40} /></clipPath>
      <g clipPath={`url(#${clipId})`}>
        {labels.map((label: string) => (
          <text key={label} x={left - 11} y={y(label)! + y.bandwidth() / 2} dy="0.35em" textAnchor="end"
            fontFamily="'Open Sans'" fontSize={fontSize} fill="#444">{label}</text>
        ))}
      </g>
      <line x1={left - 7} x2={right} y1={bottom} y2={bottom} stroke="#555" strokeWidth={1.5} />
      {edges.map((e, i) => <line key={i} x1={e} x2={e} y1={bottom} y2={bottom + 5} stroke="#555" strokeWidth={1.5} />)}
      {CANCERS.map(c => (
        <text key={c} transform={`translate(${x(c)! + x.bandwidth() / 2 + 5},${bottom + 7}) rotate(-45)`} dy="0.6em"
          textAnchor="end" fontFamily="'Open Sans'" fontSize={17} fill="#444">{c}</text>
      ))}
    </g>
  );
}

function ColorBar({ id, left, right, top, bottom }: any) {
  const w = 16, h = 14;
  return (
    <g>
      <linearGradient id={id} x1="0" x2="0" y1="0" y2="1">
        <stop offset="0" stopColor={colorScale(1)} />
        <stop offset="0.5" stopColor={colorScale(0)} />
        <stop offset="1" stopColor={colorScale(-1)} />
      </linearGradient>
      <rect x={left} y={top} width={right - left} height={bottom - top} fill={`url(#${id})`} />
      <path d={`M${left - w},${top - h}L${left},${top}L${left - w},${top}Z`} fill={colorScale(1)} />
      <path d={`M${left - w},${bottom + h}L${left},${bottom}L${left - w},${bottom}Z`} fill={colorScale(-1)} />
    </g>
  );
}

function Scatter({ points, title, yLabel, stats, box, xPx, yRef, yTicks, yFormat, yLabelX }: any) {
  const [l, t, r, b] = box;
  const x = d3.scaleLinear().domain([0, 4]).range(xPx);
  const y = d3.scaleLinear().domain([yRef[0], yRef[2]]).range([yRef[1], yRef[3]]);
  const cx = (l + r) / 2, cy = (t + b) / 2;
  const pairs: number[][] = d3.range(0, points.length, 2).map(i => [points[i], points[i + 1]]);
  const text = { fontFamily: "'Liberation Sans'", fill: '#444', textAnchor: 'middle' as const };
  return (
    <g>
      <rect x={l} y={t} width={r - l} height={b - t} fill="#fff" stroke="#9a9a9a" strokeWidth={2} />
      {pairs.map((p, i) => <circle key={i} cx={x(p[0])} cy={y(p[1])} r={3} fill="#0cc48c" />)}
      {[0, 2, 4].map(v => (
        <g key={v}>
          <line x1={x(v)} x2={x(v)} y1={b} y2={b + 5} stroke="#555" strokeWidth={1.2} />
          <text {...text} x={x(v)} y={b + 14} dy="0.35em" fontSize={17}>{v}</text>
        </g>
      ))}
      {yTicks.map((v: number) => (
        <g key={v}>
          <line x1={l - 4} x2={l} y1={y(v)} y2={y(v)} stroke="#555" strokeWidth={1.2} />
          <text {...text} textAnchor="end" x={l - 6} y={y(v)} dy="0.35em" fontSize={17}>{d3.format(yFormat)(v).replace('−', '-')}</text>
        </g>
      ))}
      <text {...text} x={cx} y={t - 16} dy="0.35em" fontSize={18}>LIHC (373 samples)</text>
      <text {...text} transform={`translate(${yLabelX},${cy}) rotate(-90)`} dy="0.35em" fontSize={18}>{yLabel}</text>
      <text {...text} x={cx} y={b + 33} dy="0.35em" fontSize={18.5}>EZH2_exp</text>
      <text {...text} x={cx} y={b + 53} dy="0.35em" fontSize={18.5}>Spearman Correlation Test:</text>
      <text {...text} x={cx} y={b + 72} dy="0.35em" fontSize={18.5}>{stats}</text>
    </g>
  );
}

const PANEL_LETTERS: [string, number, number][] = [['A', 23, 38], ['B', 19, 819], ['C', 1054, 40], ['D', 1049, 819], ['E', 19, 1269], ['F', 19, 2051], ['G', 1056, 1274], ['H', 1049, 2051]];

const SCALE_TEXTS: [string, number, number][] = [['1', 888, 286], ['-1', 885, 497], ['1', 1900, 280], ['-1', 1898, 491], ['-', 845, 1698], ['1', 1889, 1494], ['-1', 1886, 1701]];

export default function App() {
  return (
    <svg width={1959} height={2436} style={{ position: 'absolute', left: 0, top: 0, background: '#fff' }}>
      <filter id="soften" x="-2%" y="-2%" width="104%" height="104%"><feGaussianBlur stdDeviation="0.7" /></filter>
      <Heatmap labels={A_LABELS} values={A_VALUES} left={182} right={880} top={31} bottom={743} fontSize={17} labelX={77} />
      <Heatmap labels={C_LABELS} values={C_VALUES} left={1175.5} right={1892} top={23} bottom={740} fontSize={17} />
      <Heatmap labels={E_LABELS} values={E_VALUES} left={148} right={842} top={1244} bottom={1938} fontSize={16.5} />
      <Heatmap labels={G_LABELS} values={G_VALUES} left={1182} right={1881} top={1244} bottom={1943.5} fontSize={16.5} />
      <ColorBar id="bar-c" left={1933} right={1959} top={281} bottom={461} />
      <ColorBar id="bar-g" left={1929} right={1954} top={1434} bottom={1615} />
      {SCALE_TEXTS.map(([s, x, y], i) => (
        <text key={i} x={x} y={y} dy="0.35em" textAnchor="middle" fontFamily="'Open Sans'" fontSize={16} fill="#444">{s}</text>
      ))}
      <Scatter points={[...B1_POINTS, ...B1_DENSE]} yLabel="Act_CD4_abundance" stats="rho = 0.533, p < 2.2e-16" box={[152, 829, 456, 1141]} xPx={[187, 367]} yRef={[0.4, 904, -0.4, 1063]} yTicks={[0.4, 0, -0.4]} yFormat=".1f" yLabelX={102} />
      <Scatter points={[...B2_POINTS, ...B2_DENSE]} yLabel="Th2_abundance" stats="rho = 0.26, p = 3.71e-07" box={[572, 840, 875, 1151]} xPx={[605, 786.5]} yRef={[0.6, 843, -0.6, 1148]} yTicks={[0.6, 0.3, 0, -0.3, -0.6]} yFormat=".1f" yLabelX={521} />
      <Scatter points={[...D1_POINTS, ...D1_DENSE]} yLabel="CTLA4_exp" stats="rho = 0.182, p = 0.00041" box={[1179, 837, 1483, 1148]} xPx={[1213, 1394.5]} yRef={[2.5, 882, -5, 1083]} yTicks={[2.5, 0, -2.5, -5]} yFormat=".1f" yLabelX={1128} />
      <Scatter points={[...D2_POINTS, ...D2_DENSE]} yLabel="LAG3_exp" stats="rho = 0.166, p = 0.00132" box={[1575, 840, 1871, 1142]} xPx={[1609, 1785]} yRef={[5, 900, -2.5, 1118.5]} yTicks={[5, 2.5, 0, -2.5]} yFormat=".1f" yLabelX={1527} />
      <Scatter points={[...F1_POINTS, ...F1_DENSE]} yLabel="CD276_exp" stats="rho = 0.257, p = 5.19e-07" box={[82.5, 2034, 408, 2346]} xPx={[120, 313]} yRef={[8, 2047.7, 4, 2341]} yTicks={[8, 7, 6, 5, 4]} yFormat="d" yLabelX={53} />
      <Scatter points={[...F2_POINTS, ...F2_DENSE]} yLabel="MICB_exp" stats="rho = 0.403, p < 2.2e-16" box={[494.5, 2037, 815, 2350]} xPx={[531, 721.6]} yRef={[4, 2091.7, -2, 2321.7]} yTicks={[4, 2, 0, -2]} yFormat="d" yLabelX={458.6} />
      <Scatter points={[...H1_POINTS, ...H1_DENSE]} yLabel="TAP1_exp" stats="rho = 0.194, p = 0.00017" box={[1161, 2039, 1476, 2349]} xPx={[1197, 1384]} yRef={[11, 2040, 5, 2272]} yTicks={[11, 9, 7, 5]} yFormat="d" yLabelX={1123} />
      <Scatter points={[...H2_POINTS, ...H2_DENSE]} yLabel="HLA-E_exp" stats="rho = -0.293, p = 9.03e-09" box={[1560.5, 2039, 1874.5, 2349]} xPx={[1597, 1783]} yRef={[11, 2052, 6, 2326]} yTicks={[11, 10, 9, 8, 7, 6]} yFormat="d" yLabelX={1522} />
      {PANEL_LETTERS.map(([s, x, y]) => (
        <text key={s} x={x} y={y} textAnchor="middle" fontFamily="'Liberation Sans'" fontWeight="bold" fontSize={52} fill="#000">{s}</text>
      ))}
    </svg>
  );
}
